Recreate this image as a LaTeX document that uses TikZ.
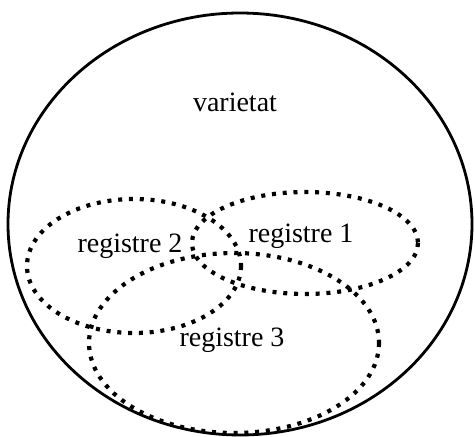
\documentclass[tikz,border=0pt]{standalone}
\usepackage{fontspec}
\setmainfont{Liberation Serif}
\begin{document}
\begin{tikzpicture}[x=1pt,y=-1pt,
  outer/.style={draw=black,line width=2.8pt},
  reg/.style={draw=black,line width=4.2pt,dash pattern=on 4pt off 6.8pt},
  lbl/.style={font=\fontsize{28}{30}\selectfont,inner sep=0pt}]
\useasboundingbox (0,0) rectangle (475,437);
\draw[outer] (240,224) ellipse [x radius=232, y radius=211];
\draw[reg] (134,266) ellipse [x radius=107, y radius=67];
\draw[reg] (305,243) ellipse [x radius=113, y radius=51];
\draw[reg] (234,343) ellipse [x radius=145, y radius=90];
\node[lbl] (v) at (235,102) {varietat};
\node[lbl] (r2) at (130,246) {registre 2};
\node[lbl] (r1) at (301,236) {registre 1};
\node[lbl] (r3) at (232,340) {registre 3};
\end{tikzpicture}
\end{document}
